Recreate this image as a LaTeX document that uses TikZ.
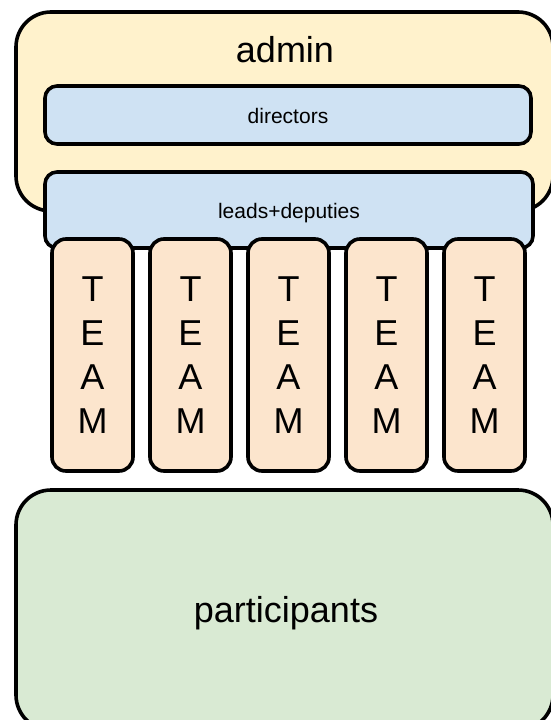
\documentclass[tikz,border=0pt]{standalone}
\usepackage{fontspec}
\setmainfont{Liberation Sans}
\definecolor{adminfill}{HTML}{FFF2CC}
\definecolor{bluefill}{HTML}{CFE2F3}
\definecolor{teamfill}{HTML}{FCE5CD}
\definecolor{partfill}{HTML}{D9EAD3}
\begin{document}
\begin{tikzpicture}[x=1pt,y=-1pt,
  shapebox/.style={draw=black, line width=3.6pt, inner sep=0pt, outer sep=0pt, anchor=north west},
  bigtext/.style={font=\fontsize{36}{44}\selectfont, inner sep=0pt},
  smalltext/.style={font=\fontsize{21}{25}\selectfont, inner sep=0pt}]
\useasboundingbox (0,0) rectangle (550,720);
\node[shapebox, fill=adminfill, minimum width=537pt, minimum height=199pt, rounded corners=35pt] (admin) at (16,12) {};
\node[bigtext, anchor=base] (admintxt) at (285,62) {admin};
\node[shapebox, fill=bluefill, minimum width=486pt, minimum height=58pt, rounded corners=12pt] (directors) at (45,86) {};
\node[smalltext, anchor=base] (dirtxt) at (288,123) {directors};
\node[shapebox, fill=bluefill, minimum width=488pt, minimum height=76pt, rounded corners=12pt] (leads) at (45,172) {};
\node[smalltext, anchor=base] (leadstxt) at (289,218) {leads+deputies};
\foreach \i in {0,...,4}{
  \node[shapebox, fill=teamfill, minimum width=81pt, minimum height=232pt, rounded corners=14pt] (team\i) at (52+98*\i,239) {};
  \node[bigtext, anchor=north, align=center] (teamtxt\i) at (92.5+98*\i,277) {T\\E\\A\\M};
}
\node[shapebox, fill=partfill, minimum width=537pt, minimum height=240pt, rounded corners=35pt] (participants) at (16,490) {};
\node[bigtext, anchor=base] (parttxt) at (286,622) {participants};
\end{tikzpicture}
\end{document}
